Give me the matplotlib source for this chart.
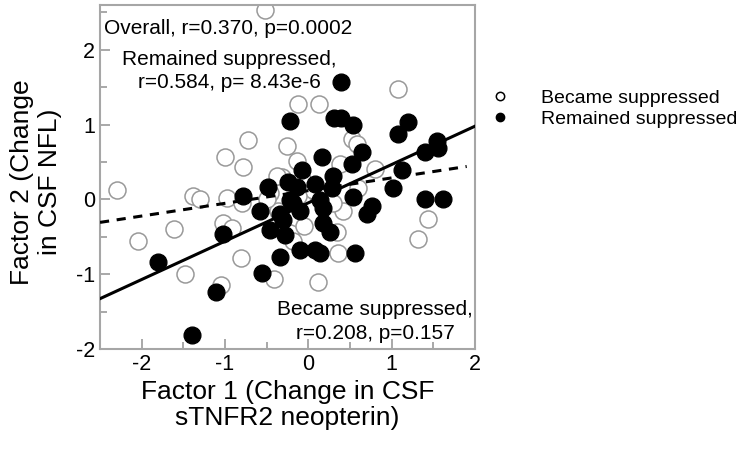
import matplotlib.pyplot as plt
from matplotlib.lines import Line2D
import numpy as np

plt.rcParams['font.family'] = ['Liberation Sans', 'DejaVu Sans']
plt.rcParams['axes.unicode_minus'] = False

# Remained suppressed (filled)
rem_x = [0.39, -0.22, 0.31, 0.39, 0.53, 1.07, 1.20, 0.64, 0.16, 0.52,
         1.40, 1.54, 1.55, 1.12, 1.02, 0.29, 0.28, 0.54, 0.76, 1.40,
         1.62, 0.70, 0.18, 0.18, 0.26, 0.56, 0.14, -0.78, -0.58, -0.34,
         -0.31, -0.19, -0.10, -0.46, -0.28, -0.10, 0.08, -0.34, -0.56, -1.03,
         -1.11, -1.40, -1.80, -0.08, -0.25, -0.49, 0.08, -0.14, -0.22, 0.14]
rem_y = [1.57, 1.05, 1.09, 1.09, 0.99, 0.88, 1.04, 0.63, 0.57, 0.47,
         0.63, 0.78, 0.69, 0.39, 0.15, 0.32, 0.15, 0.03, -0.09, 0.01,
         0.01, -0.19, -0.12, -0.32, -0.44, -0.72, -0.71, 0.05, -0.15, -0.19,
         -0.28, -0.05, -0.15, -0.41, -0.48, -0.68, -0.68, -0.77, -0.99, -0.46,
         -1.24, -1.81, -0.84, 0.39, 0.23, 0.17, 0.21, 0.16, -0.01, -0.01]

# Became suppressed (open)
bec_x = [-0.52, 1.08, -0.13, 0.13, -0.72, -1.00, -0.78, -0.26, -0.14, -1.38,
         -1.30, -0.98, -0.32, 0.52, 0.58, 0.38, 0.80, 0.42, 1.44, 1.31,
         0.34, 0.36, 0.12, -1.03, -0.92, -0.81, -1.05, -1.48, -0.41, -0.22,
         -0.19, -0.46, -0.37, 0.11, -2.30, -2.05, -1.61, -0.80, -0.50, -0.38,
         -0.08, 0.05, 0.22, -0.05, 0.30, -0.12, 0.60]
bec_y = [2.53, 1.48, 1.28, 1.28, 0.80, 0.57, 0.44, 0.71, 0.51, 0.05,
         0.01, 0.02, 0.30, 0.81, 0.74, 0.48, 0.41, -0.15, -0.26, -0.53,
         -0.44, -0.71, -1.11, -0.32, -0.38, -0.78, -1.15, -1.00, -1.06, -0.45,
         -0.55, 0.08, -0.15, 0.05, 0.13, -0.56, -0.40, -0.05, 0.01, 0.32,
         0.27, 0.12, 0.08, -0.35, -0.05, 0.05, 0.15]

fig = plt.figure(figsize=(7.42, 4.49), dpi=100)
ax = fig.add_axes([0.1348, 0.2227, 0.5054, 0.7662])

ax.scatter(bec_x, bec_y, s=150, facecolors='white', edgecolors='#999999',
           linewidths=1.1, zorder=2)
ax.scatter(rem_x, rem_y, s=145, color='black', zorder=3)

# regression lines
m1, b1 = np.polyfit(rem_x, rem_y, 1)
xs = np.array([-2.5, 2.0])
ax.plot(xs, m1 * xs + b1, color='black', lw=2.2, zorder=4)
m2, b2 = np.polyfit(bec_x, bec_y, 1)
xd = np.array([-2.5, 1.9])
ax.plot(xd, m2 * xd + b2, color='black', lw=2.2, ls=(0, (3, 2.5)), zorder=4)

ax.set_xlim(-2.5, 2.0)
ax.set_ylim(-2.0, 2.6)
ax.set_xticks([-2, -1, 0, 1, 2])
ax.set_yticks([-2, -1, 0, 1, 2])
ax.set_xticks(np.arange(-2.5, 2.01, 0.5), minor=True)
ax.set_yticks(np.arange(-1.5, 2.6, 0.5), minor=True)
ax.tick_params(which='both', direction='in', color='#999999', top=False, right=False,
               labelsize=15.5, width=1.2)
ax.tick_params(which='major', length=7)
ax.tick_params(which='minor', length=5)
for sp in ax.spines.values():
    sp.set_color('#a6a6a6')
    sp.set_linewidth(1.5)

ax.text(-2.45, 2.29, 'Overall, r=0.370, p=0.0002', fontsize=15, va='center')
ax.text(-0.95, 1.72, 'Remained suppressed,\nr=0.584, p= 8.43e-6', fontsize=15,
        ha='center', va='center', linespacing=1.3)
ax.text(0.8, -1.63, 'Became suppressed,\nr=0.208, p=0.157', fontsize=15,
        ha='center', va='center', linespacing=1.3)

ax.set_xlabel('Factor 1 (Change in CSF\nsTNFR2 neopterin)', fontsize=19, labelpad=4,
              linespacing=1.1)
fig.text(0.0485, 0.595, 'Factor 2 (Change\nin CSF NFL)', fontsize=19, rotation=90,
         ha='center', va='center', linespacing=1.2)

handles = [Line2D([], [], ls='none', marker='o', ms=6, mfc='white', mec='black', mew=1.1),
           Line2D([], [], ls='none', marker='o', ms=6, mfc='black', mec='black')]
fig.legend(handles, ['Became suppressed', 'Remained suppressed'], loc='center left',
           bbox_to_anchor=(0.624, 0.758), frameon=False, fontsize=14, handletextpad=1.1,
           labelspacing=0.15)

fig.savefig('out.png', dpi=100)
